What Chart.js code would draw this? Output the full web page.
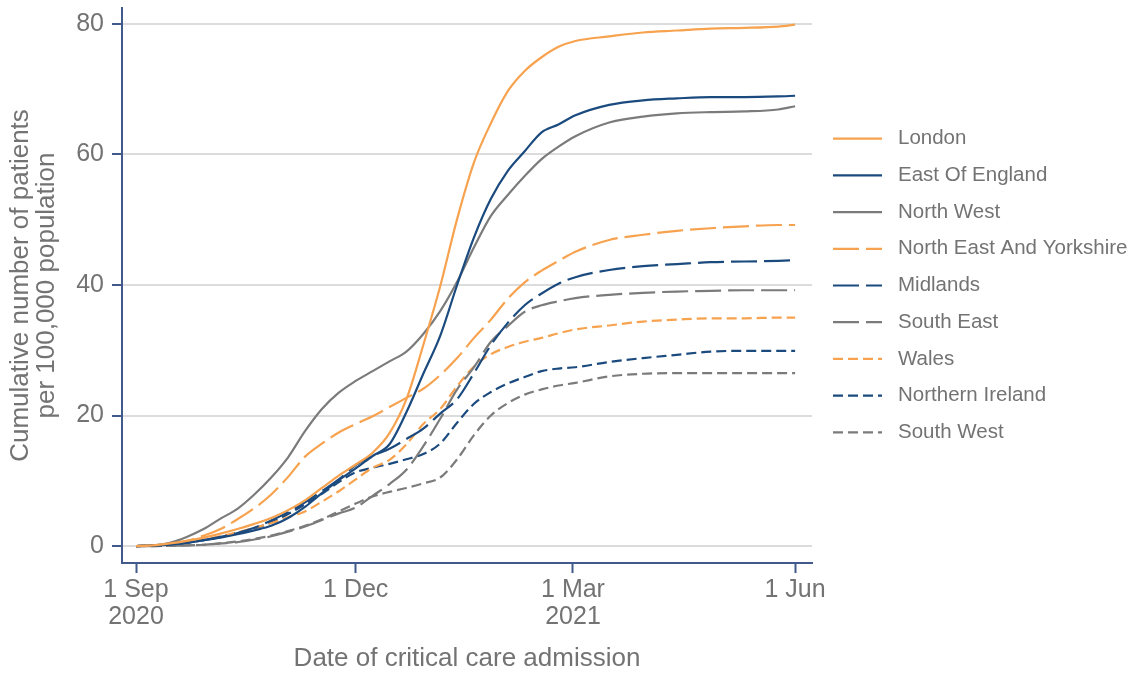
<!DOCTYPE html>
<html>
<head>
<meta charset="utf-8">
<script src="https://cdn.jsdelivr.net/npm/chart.js@4/dist/chart.umd.min.js"></script>
<style>
  html, body { margin: 0; padding: 0; background: #fff; }
  #wrap { width: 1139px; height: 677px; position: relative; }
</style>
</head>
<body>
<div id="wrap"><canvas id="cumulativeChart"></canvas></div>
<script>
// days since 1 Sep 2020
const days = [0, 7, 14, 21, 28, 35, 42, 49, 56, 63, 70, 77, 84, 91, 98, 105, 112, 119, 126, 133,
  140, 147, 154, 161, 168, 175, 182, 196, 210, 224, 238, 252, 266, 273];

const london = [0, 0.1, 0.4, 0.8, 1.3, 1.9, 2.6, 3.4, 4.3, 5.5, 7.0, 8.9, 10.8, 12.5, 14.3, 17.3, 22.5, 30.8, 39.8, 50.1,
  58.8, 64.8, 69.7, 72.8, 74.9, 76.5, 77.4, 78.1, 78.7, 79.0, 79.3, 79.4, 79.6, 79.9];
const eastOfEngland = [0, 0.05, 0.2, 0.5, 0.9, 1.3, 1.8, 2.4, 3.1, 4.3, 6.0, 8.1, 10.1, 11.9, 13.8, 15.6, 20.5, 26.4, 32.2, 40.0,
  47.3, 53.2, 57.5, 60.5, 63.4, 64.6, 66.0, 67.6, 68.3, 68.6, 68.8, 68.8, 68.9, 69.0];
const northWest = [0, 0.1, 0.5, 1.4, 2.6, 4.2, 5.7, 7.9, 10.5, 13.6, 17.6, 21.0, 23.5, 25.3, 26.8, 28.3, 29.8, 32.5, 36.0, 40.5,
  45.8, 50.6, 53.8, 56.7, 59.3, 61.2, 62.8, 64.9, 65.8, 66.3, 66.5, 66.6, 66.9, 67.4];
const northEastYorkshire = [0, 0.1, 0.3, 0.8, 1.6, 2.6, 4.1, 5.8, 7.9, 10.6, 13.7, 15.7, 17.4, 18.7, 19.9, 21.3, 22.7, 24.1, 26.2, 28.8,
  31.9, 34.7, 37.9, 40.4, 42.2, 43.7, 45.1, 46.9, 47.7, 48.3, 48.7, 49.0, 49.2, 49.2];
const midlands = [0, 0.05, 0.2, 0.5, 0.9, 1.4, 2.0, 2.8, 3.9, 5.2, 6.7, 8.4, 10.2, 12.4, 13.8, 14.9, 16.4, 18.0, 20.3, 22.5,
  26.5, 30.8, 34.2, 36.9, 38.7, 40.2, 41.2, 42.3, 42.9, 43.2, 43.5, 43.6, 43.7, 43.8];
const southEast = [0, 0, 0.05, 0.1, 0.2, 0.4, 0.6, 1.0, 1.5, 2.2, 3.0, 4.0, 5.0, 5.9, 7.7, 9.5, 11.7, 15.3, 19.5, 24.0,
  27.4, 31.3, 33.7, 35.9, 36.9, 37.5, 38.0, 38.5, 38.8, 39.0, 39.1, 39.2, 39.2, 39.2];
const wales = [0, 0.1, 0.3, 0.6, 1.0, 1.5, 2.1, 2.8, 3.5, 4.4, 5.3, 6.8, 8.4, 10.2, 12.0, 13.2, 15.6, 18.7, 21.0, 24.5,
  27.5, 29.4, 30.5, 31.3, 31.9, 32.6, 33.2, 33.8, 34.4, 34.7, 34.9, 34.9, 35.0, 35.0];
const northernIreland = [0, 0.05, 0.2, 0.5, 0.9, 1.4, 2.0, 2.7, 3.6, 4.9, 6.4, 8.0, 9.8, 11.3, 12.0, 12.6, 13.3, 14.1, 15.7, 18.9,
  21.8, 23.6, 24.9, 25.9, 26.8, 27.2, 27.4, 28.2, 28.8, 29.3, 29.8, 29.9, 29.9, 29.9];
const southWest = [0, 0, 0.05, 0.1, 0.2, 0.4, 0.7, 1.1, 1.6, 2.3, 3.1, 4.1, 5.3, 6.5, 7.6, 8.3, 8.9, 9.6, 10.5, 13.3,
  17.0, 20.0, 21.9, 23.2, 24.0, 24.6, 25.0, 26.0, 26.4, 26.5, 26.5, 26.5, 26.5, 26.5];

const xTickDays = [0, 91, 181, 273];
const xTickLabels = [['1 Sep', '2020'], '1 Dec', ['1 Mar', '2021'], '1 Jun'];
const yTickValues = [0, 20, 40, 60, 80];

const orange = '#f7a24f';
const blue = '#1b4a7e';
const grey = '#7b7b7b';
const axisColor = '#41598b';
const textColor = '#737373';
const font = '"Liberation Sans", Arial, sans-serif';

const solid = [];
const longDash = [26, 7];
const shortDash = [10, 5];

const series = [
  { label: 'London', values: london, color: orange, dash: solid },
  { label: 'East Of England', values: eastOfEngland, color: blue, dash: solid },
  { label: 'North West', values: northWest, color: grey, dash: solid },
  { label: 'North East And Yorkshire', values: northEastYorkshire, color: orange, dash: longDash },
  { label: 'Midlands', values: midlands, color: blue, dash: longDash },
  { label: 'South East', values: southEast, color: grey, dash: longDash },
  { label: 'Wales', values: wales, color: orange, dash: shortDash },
  { label: 'Northern Ireland', values: northernIreland, color: blue, dash: shortDash },
  { label: 'South West', values: southWest, color: grey, dash: shortDash },
];

// legend drawn by hand so the dash patterns show
const dashLegend = {
  id: 'dashLegend',
  afterDraw(chart) {
    const { ctx, chartArea } = chart;
    const rowH = 36.7;
    const n = chart.data.datasets.length;
    const y0 = (chartArea.top + chartArea.bottom) / 2 - rowH * (n - 1) / 2;
    const x0 = chartArea.right + 21;
    ctx.save();
    chart.data.datasets.forEach((ds, i) => {
      const y = y0 + i * rowH;
      ctx.strokeStyle = ds.borderColor;
      ctx.lineWidth = ds.borderWidth;
      ctx.setLineDash(ds.borderDash);
      ctx.beginPath();
      ctx.moveTo(x0, y);
      ctx.lineTo(x0 + 49, y);
      ctx.stroke();
      ctx.setLineDash([]);
      ctx.fillStyle = textColor;
      ctx.font = '20.5px ' + font;
      ctx.textBaseline = 'middle';
      ctx.fillText(ds.label, x0 + 65, y);
    });
    ctx.restore();
  },
};

const datasets = series.map(s => ({
  label: s.label,
  data: days.map((d, i) => ({ x: d, y: s.values[i] })),
  borderColor: s.color,
  backgroundColor: s.color,
  borderWidth: 2.2,
  borderDash: s.dash,
  pointRadius: 0,
  cubicInterpolationMode: 'monotone',
  fill: false,
}));

new Chart(document.getElementById('cumulativeChart').getContext('2d'), {
  type: 'line',
  data: { datasets },
  plugins: [dashLegend],
  options: {
    responsive: true,
    maintainAspectRatio: false,
    animation: false,
    layout: { padding: { top: 8, right: 327, bottom: 0, left: 0 } },
    plugins: { legend: { display: false }, tooltip: { enabled: false } },
    scales: {
      x: {
        type: 'linear',
        min: -5.8,
        max: 280,
        afterBuildTicks: (scale) => { scale.ticks = xTickDays.map(v => ({ value: v })); },
        afterFit: (scale) => {
          scale.height = 114;
          scale.paddingLeft = 0;
          scale.paddingRight = 0;
        },
        ticks: {
          callback: (v, i) => xTickLabels[i],
          color: textColor,
          font: { family: font, size: 25, lineHeight: 1.07 },
          padding: 4,
          maxRotation: 0,
          autoSkip: false,
        },
        grid: { drawOnChartArea: false, drawTicks: true, tickLength: 10, tickColor: axisColor, tickWidth: 2 },
        border: { color: axisColor, width: 2 },
        title: {
          display: true,
          text: 'Date of critical care admission',
          color: textColor,
          font: { family: font, size: 26, lineHeight: 1.07 },
          padding: { top: 0, bottom: 4 },
        },
      },
      y: {
        min: -2.6,
        max: 82.45,
        afterBuildTicks: (scale) => { scale.ticks = yTickValues.map(v => ({ value: v })); },
        afterFit: (scale) => {
          scale.width = 122;
          scale.paddingTop = 0;
          scale.paddingBottom = 0;
        },
        ticks: {
          color: textColor,
          font: { family: font, size: 25 },
          padding: 8,
        },
        grid: { color: '#dcdcdc', lineWidth: 2, drawTicks: true, tickLength: 10, tickColor: axisColor, tickWidth: 2 },
        border: { color: axisColor, width: 2 },
        title: {
          display: true,
          text: ['Cumulative number of patients', 'per 100,000 population'],
          color: textColor,
          font: { family: font, size: 26, lineHeight: 1.0 },
          padding: { top: 8, bottom: 0 },
        },
      },
    },
  },
});
</script>
</body>
</html>
